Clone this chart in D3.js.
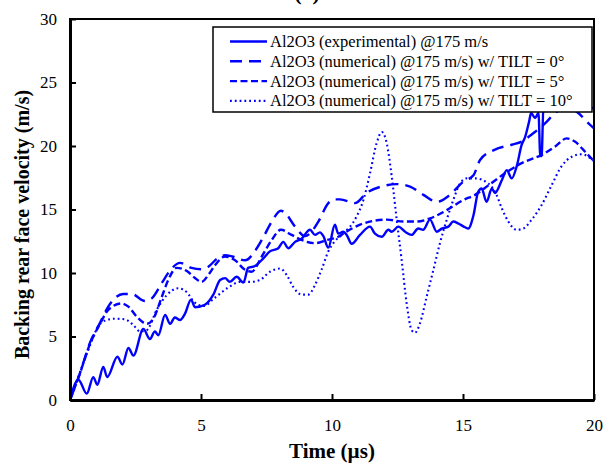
<!DOCTYPE html>
<html><head><meta charset="utf-8">
<script src="https://cdn.jsdelivr.net/npm/d3@7"></script>
<style>body{margin:0;background:#fff}svg{display:block}</style>
</head><body>
<svg id="c" width="604" height="465"></svg>
<script>
const xTicks = [0, 5, 10, 15, 20];
const yTicks = [0, 5, 10, 15, 20, 25, 30];
const seriesNames = [
  "Al2O3 (experimental) @175 m/s",
  "Al2O3 (numerical) @175 m/s) w/ TILT = 0°",
  "Al2O3 (numerical) @175 m/s) w/ TILT = 5°",
  "Al2O3 (numerical) @175 m/s) w/ TILT = 10°"
];
const experimental = [[0,0],[0.32,1.6],[0.64,0.5],[0.89,1.8],[1.04,1.2],[1.27,2.6],[1.42,1.8],[1.81,3.4],[2.0,2.8],[2.23,4.1],[2.42,3.5],[2.8,5.6],[3.05,4.8],[3.24,5.4],[3.37,5.1],[3.63,6.7],[3.82,6.0],[4.0,6.5],[4.2,6.3],[4.39,6.8],[4.62,7.9],[4.77,7.3],[5.15,7.5],[5.47,8.3],[5.73,9.45],[5.92,9.6],[6.1,9.3],[6.36,9.7],[6.62,9.25],[6.8,10.4],[7.06,10.55],[7.38,11.15],[7.63,11.7],[7.95,11.95],[8.14,12.45],[8.33,11.95],[8.59,12.45],[8.84,12.7],[9.16,13.4],[9.35,13.0],[9.54,13.2],[9.67,12.9],[9.86,12.0],[10.11,13.8],[10.24,13.1],[10.43,13.25],[10.56,13.0],[10.75,12.3],[11.07,13.0],[11.45,13.65],[11.64,13.1],[11.9,12.85],[12.15,13.4],[12.28,13.25],[12.53,13.65],[12.79,13.25],[13.04,13.0],[13.29,13.5],[13.48,13.4],[13.74,14.2],[14.0,13.25],[14.19,13.5],[14.44,13.65],[14.63,14.05],[14.82,13.9],[15.08,13.6],[15.2,13.5],[15.4,14.55],[15.58,16.4],[15.71,16.65],[15.9,15.6],[16.1,16.65],[16.22,16.3],[16.48,17.3],[16.67,18.1],[16.86,17.45],[17.05,18.4],[17.24,20.1],[17.37,20.7],[17.52,21.9],[17.6,22.6],[17.75,22.2],[17.88,22.6],[17.95,19.2],[18.0,19.2],[18.07,23.0],[18.5,23.5],[19.0,23.6],[19.5,23.3],[19.7,23.0],[20,23.0]];
const tilt0 = [[0,0],[0.38,2.1],[0.76,4.5],[1.15,6.1],[1.46,7.35],[2.03,8.35],[2.35,8.35],[2.86,7.8],[3.12,8.0],[3.5,9.2],[3.82,10.2],[4.2,10.8],[4.64,10.4],[5.0,10.3],[5.28,10.5],[5.6,11.1],[5.92,11.4],[6.2,11.3],[6.68,11.0],[7.13,11.95],[7.4,12.9],[7.7,14.05],[8.05,14.9],[8.2,14.75],[8.59,13.65],[8.97,12.9],[9.2,13.2],[9.48,14.05],[9.86,15.5],[10.11,15.8],[10.3,15.8],[10.88,15.5],[11.32,16.3],[11.96,16.85],[12.47,17.0],[12.98,16.8],[13.49,16.15],[14.0,15.6],[14.5,16.15],[15.01,17.2],[15.4,17.7],[15.65,18.9],[16.2,19.7],[16.86,20.1],[17.24,20.35],[17.68,21.0],[18.19,21.9],[18.51,22.6],[19.0,23.0],[19.4,22.6],[19.78,21.8],[20,21.4]];
const tilt5 = [[0,0],[0.38,2.1],[0.76,4.4],[1.15,6.0],[1.46,7.1],[1.97,7.6],[2.23,7.35],[2.55,6.55],[2.93,6.0],[3.18,6.4],[3.5,8.1],[3.75,9.45],[4.07,10.4],[4.5,10.1],[4.77,9.6],[5.02,9.3],[5.3,9.9],[5.53,10.6],[5.92,11.3],[6.3,11.0],[6.68,10.25],[6.93,10.1],[7.32,11.3],[7.7,12.6],[8.05,13.4],[8.46,13.0],[8.84,12.6],[9.35,12.35],[9.8,12.6],[10.24,12.85],[10.43,13.1],[11.07,13.8],[11.58,14.1],[12.09,14.2],[12.72,14.05],[13.23,14.05],[13.74,14.3],[14.38,14.95],[15.01,15.75],[15.46,16.15],[15.97,16.9],[16.6,17.85],[17.24,18.65],[18.0,19.3],[18.51,19.95],[18.96,20.6],[19.27,20.35],[19.66,19.55],[20,18.8]];
const tilt10 = [[0,0],[0.32,1.85],[0.7,3.95],[1.08,5.8],[1.4,6.3],[1.72,6.4],[2.1,6.35],[2.42,5.9],[2.67,5.4],[2.93,5.5],[3.31,7.1],[3.69,8.25],[4.13,8.8],[4.45,8.5],[4.75,7.7],[5.1,7.4],[5.5,8.0],[6.0,8.8],[6.5,9.3],[6.87,9.3],[7.25,9.45],[7.63,10.1],[8.02,10.35],[8.27,9.85],[8.52,8.9],[8.84,8.3],[9.1,8.3],[9.35,9.05],[9.6,10.25],[9.86,11.7],[10.11,12.5],[10.43,13.1],[10.94,14.45],[11.2,15.75],[11.45,17.85],[11.7,20.2],[11.9,21.1],[12.09,20.2],[12.28,17.6],[12.47,14.2],[12.66,11.0],[12.85,7.6],[13.04,5.5],[13.17,5.3],[13.36,6.05],[13.61,8.1],[13.87,10.25],[14.12,12.35],[14.38,14.2],[14.63,15.75],[14.89,17.05],[15.15,17.45],[15.46,17.45],[15.97,17.05],[16.28,16.15],[16.48,15.1],[16.73,14.05],[17.05,13.4],[17.3,13.5],[17.62,14.2],[18.0,15.35],[18.38,16.9],[18.76,18.4],[19.15,19.15],[19.53,19.35],[20,18.8]];

const series = [
  {name: seriesNames[0], data: experimental, dash: null, w: 2.4},
  {name: seriesNames[1], data: tilt0, dash: "12,7", w: 2.4},
  {name: seriesNames[2], data: tilt5, dash: "7,3.5", w: 2.4},
  {name: seriesNames[3], data: tilt10, dash: "1.8,3", w: 2.1}
];

const W = 604, H = 465;
const m = {l: 70, r: 10, t: 19, b: 65};
const svg = d3.select("#c");
const x = d3.scaleLinear().domain([0, 20]).range([m.l, W - m.r]);
const y = d3.scaleLinear().domain([0, 30]).range([H - m.b, m.t]);
const font = "'Liberation Serif','Times New Roman',serif";
const blue = "#0000ff";

// panel label (its lower edge shows at the very top, as in the reference)
svg.append("text").attr("x", 307).attr("y", 0).attr("text-anchor", "middle")
  .attr("font-family", font).attr("font-weight", "bold").attr("font-size", 22).text("(a)");

svg.append("clipPath").attr("id", "pc").append("rect")
  .attr("x", m.l).attr("y", m.t).attr("width", W - m.l - m.r).attr("height", H - m.t - m.b);

const line = d3.line().x(d => x(d[0])).y(d => y(d[1])).curve(d3.curveMonotoneX);
const g = svg.append("g").attr("clip-path", "url(#pc)");
series.forEach(s => {
  g.append("path").attr("d", line(s.data)).attr("fill", "none").attr("stroke", blue)
    .attr("stroke-width", s.w).attr("stroke-dasharray", s.dash)
    .attr("stroke-linejoin", "round");
});

// frame
svg.append("rect").attr("x", m.l).attr("y", m.t).attr("width", W - m.l - m.r).attr("height", H - m.t - m.b)
  .attr("fill", "none").attr("stroke", "#000").attr("stroke-width", 2);

// axes
const xa = svg.append("g").attr("transform", `translate(0,${H - m.b})`)
  .call(d3.axisBottom(x).tickValues(xTicks).tickSizeInner(-6).tickSizeOuter(0).tickPadding(19));
const ya = svg.append("g").attr("transform", `translate(${m.l},0)`)
  .call(d3.axisLeft(y).tickValues(yTicks).tickSizeInner(-6).tickSizeOuter(0).tickPadding(13));
[xa, ya].forEach(a => {
  a.select(".domain").attr("stroke", "#000").attr("stroke-width", 3);
  a.selectAll(".tick line").attr("stroke", "#000").attr("stroke-width", 2);
  a.selectAll(".tick text").attr("font-family", font).attr("font-size", 17).attr("fill", "#000");
});

svg.append("text").attr("x", x(10)).attr("y", 458).attr("text-anchor", "middle")
  .attr("font-family", font).attr("font-weight", "bold").attr("font-size", 21).text("Time (µs)");
svg.append("text").attr("transform", `translate(29,${y(15) + 15}) rotate(-90)`).attr("text-anchor", "middle")
  .attr("font-family", font).attr("font-weight", "bold").attr("font-size", 20)
  .text("Backing rear face velocity (m/s)");

// legend
const lg = svg.append("g");
lg.append("rect").attr("x", 213).attr("y", 27).attr("width", 379).attr("height", 85)
  .attr("fill", "#fff").attr("stroke", "#000").attr("stroke-width", 1.5);
series.forEach((s, i) => {
  const yy = 41.5 + i * 19.8;
  lg.append("line").attr("x1", 230).attr("x2", 267).attr("y1", yy).attr("y2", yy)
    .attr("stroke", blue).attr("stroke-width", s.w).attr("stroke-dasharray", s.dash);
  lg.append("text").attr("x", 270).attr("y", yy + 5.5).attr("font-family", font).attr("font-size", 16.5)
    .attr("fill", "#000").text(s.name);
});
</script>
</body></html>
